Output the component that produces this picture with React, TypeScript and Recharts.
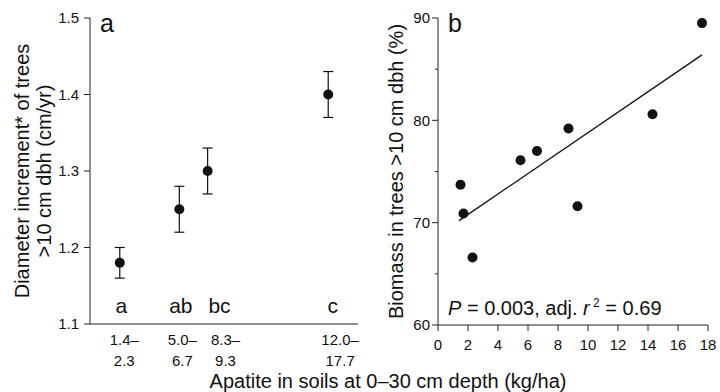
import React from 'react';
import { ScatterChart, Scatter, XAxis, YAxis, ErrorBar, Label } from 'recharts';

// panel a: diameter increment by apatite class
const groupX = [2.0, 6.0, 7.9, 16.0];
const groupMean = [1.18, 1.25, 1.3, 1.4];
const groupErr = [0.02, 0.03, 0.03, 0.03];
const groupLetters = ['a', 'ab', 'bc', 'c'];
const letterX = [2.1, 6.1, 8.7, 16.3];
const letterY = 1.115;
const rangeTickX = [2.3, 6.2, 9.1, 16.8];
const rangeTop = ['1.4–', '5.0–', '8.3–', '12.0–'];
const rangeBottom = ['2.3', '6.7', '9.3', '17.7'];
const incrementTicks = [1.1, 1.2, 1.3, 1.4, 1.5];

// panel b: biomass vs apatite
const apatite = [1.5, 1.7, 2.3, 5.5, 6.6, 8.7, 9.3, 14.3, 17.6];
const biomass = [73.7, 70.9, 66.6, 76.1, 77.0, 79.2, 71.6, 80.6, 89.5];
const fitX = [1.4, 17.6];
const fitY = [70.2, 86.4];
const biomassTicks = [60, 65, 70, 75, 80, 85, 90];
const apatiteTicks = [0, 2, 4, 6, 8, 10, 12, 14, 16, 18];

const FONT = '"Liberation Sans", Arial, Helvetica, sans-serif';
const INK = '#111';
const AXIS = '#222';

const meanData = groupX.map((x, i) => ({ x, y: groupMean[i], err: groupErr[i] }));
const letterData = groupLetters.map((label, i) => ({ x: letterX[i], y: letterY, label }));
const biomassData = apatite.map((x, i) => ({ x, y: biomass[i] }));
const fitData = fitX.map((x, i) => ({ x, y: fitY[i] }));

const Dot = (p: any) => <circle cx={p.cx} cy={p.cy} r={5} fill={INK} />;
const NoShape = () => <g />;

const LetterShape = (p: any) => (
  <text x={p.cx} y={p.cy} textAnchor="middle" fontSize={21} fontFamily={FONT} fill={INK}>
    {p.payload.label}
  </text>
);

const RangeTick = (p: any) => {
  const i = rangeTickX.indexOf(p.payload.value);
  return (
    <g fontSize={15} fontFamily={FONT} fill={INK}>
      <text x={p.x} y={p.y + 13} textAnchor="middle">{rangeTop[i]}</text>
      <text x={p.x} y={p.y + 34} textAnchor="middle">{rangeBottom[i]}</text>
    </g>
  );
};

// major ticks labelled, minor ticks shorter and blank
const BiomassTick = (p: any) => {
  const v = p.payload.value;
  const major = v % 10 === 0;
  const axisX = p.x + 2 + 6;
  return (
    <g>
      <line x1={axisX - (major ? 6 : 3)} x2={axisX} y1={p.y} y2={p.y} stroke={AXIS} />
      {major && (
        <text x={p.x} y={p.y} dy="0.35em" textAnchor="end" fontSize={15} fontFamily={FONT} fill={INK}>
          {v}
        </text>
      )}
    </g>
  );
};

const PanelTitle = ({ viewBox, letter, lines, offsets }: any) => {
  const axisX = viewBox.x + viewBox.width;
  const cy = viewBox.y + viewBox.height / 2;
  return (
    <g fontFamily={FONT} fill={INK}>
      <text x={axisX + 10} y={viewBox.y + 14} fontSize={25}>{letter}</text>
      {lines.map((t: string, i: number) => {
        const cx = viewBox.x + offsets[i];
        return (
          <text key={t} x={cx} y={cy} fontSize={20} textAnchor="middle" dominantBaseline="central"
            transform={`rotate(-90, ${cx}, ${cy})`}>
            {t}
          </text>
        );
      })}
    </g>
  );
};

const StatNote = ({ viewBox }: any) => (
  <text x={viewBox.x + 10} y={viewBox.y - 10} fontSize={20} fontFamily={FONT} fill={INK}>
    <tspan fontStyle="italic">P</tspan>
    <tspan> = 0.003, adj. </tspan>
    <tspan fontStyle="italic">r</tspan>
    <tspan dy={-8} fontSize={12}> 2</tspan>
    <tspan dy={8}> = 0.69</tspan>
  </text>
);

export default function App() {
  return (
    <div style={{ position: 'fixed', left: 0, top: 0, width: 720, height: 392, background: '#fff', overflow: 'hidden' }}>
      <div style={{ position: 'absolute', left: 0, top: 0 }}>
        <ScatterChart width={370} height={392} margin={{ top: 18, right: 12, bottom: 18, left: 50 }}>
          <XAxis type="number" dataKey="x" domain={[0, 18]} ticks={rangeTickX} tickLine={false}
            height={50} stroke={AXIS} tick={RangeTick} />
          <YAxis type="number" dataKey="y" domain={[1.1, 1.5]} ticks={incrementTicks} width={40}
            tickSize={6} tickMargin={5} stroke={AXIS}
            tick={{ fontSize: 15, fontFamily: FONT, fill: INK }}
            tickFormatter={(v: number) => v.toFixed(1)}>
            <Label content={(p: any) => (
              <PanelTitle viewBox={p.viewBox} letter="a"
                lines={['Diameter increment* of trees', '>10 cm dbh (cm/yr)']} offsets={[-28, -6]} />
            )} />
          </YAxis>
          <Scatter data={meanData} shape={Dot} isAnimationActive={false}>
            <ErrorBar dataKey="err" direction="y" width={5} stroke={INK} strokeWidth={1.2} />
          </Scatter>
          <Scatter data={letterData} shape={LetterShape} isAnimationActive={false} />
        </ScatterChart>
      </div>
      <div style={{ position: 'absolute', left: 370, top: 0 }}>
        <ScatterChart width={350} height={392} margin={{ top: 18, right: 12, bottom: 37, left: 28 }}>
          <XAxis type="number" dataKey="x" domain={[0, 18]} ticks={apatiteTicks} height={30}
            tickSize={6} tickMargin={8} stroke={AXIS}
            tick={{ fontSize: 15, fontFamily: FONT, fill: INK }}>
            <Label content={StatNote} />
          </XAxis>
          <YAxis type="number" dataKey="y" domain={[60, 90]} ticks={biomassTicks} width={40}
            tickSize={6} tickMargin={2} tickLine={false} stroke={AXIS} tick={BiomassTick}>
            <Label content={(p: any) => (
              <PanelTitle viewBox={p.viewBox} letter="b"
                lines={['Biomass in trees >10 cm dbh (%)']} offsets={[-2]} />
            )} />
          </YAxis>
          <Scatter data={fitData} shape={NoShape} line={{ stroke: INK, strokeWidth: 1.3 }}
            isAnimationActive={false} />
          <Scatter data={biomassData} shape={Dot} isAnimationActive={false} />
        </ScatterChart>
      </div>
      <div style={{ position: 'absolute', left: 0, top: 370, width: 720, boxSizing: 'border-box',
        paddingLeft: 56, textAlign: 'center', whiteSpace: 'nowrap',
        fontSize: 20, lineHeight: '22px', fontFamily: FONT, color: INK }}>
        Apatite in soils at 0–30 cm depth (kg/ha)
      </div>
    </div>
  );
}
